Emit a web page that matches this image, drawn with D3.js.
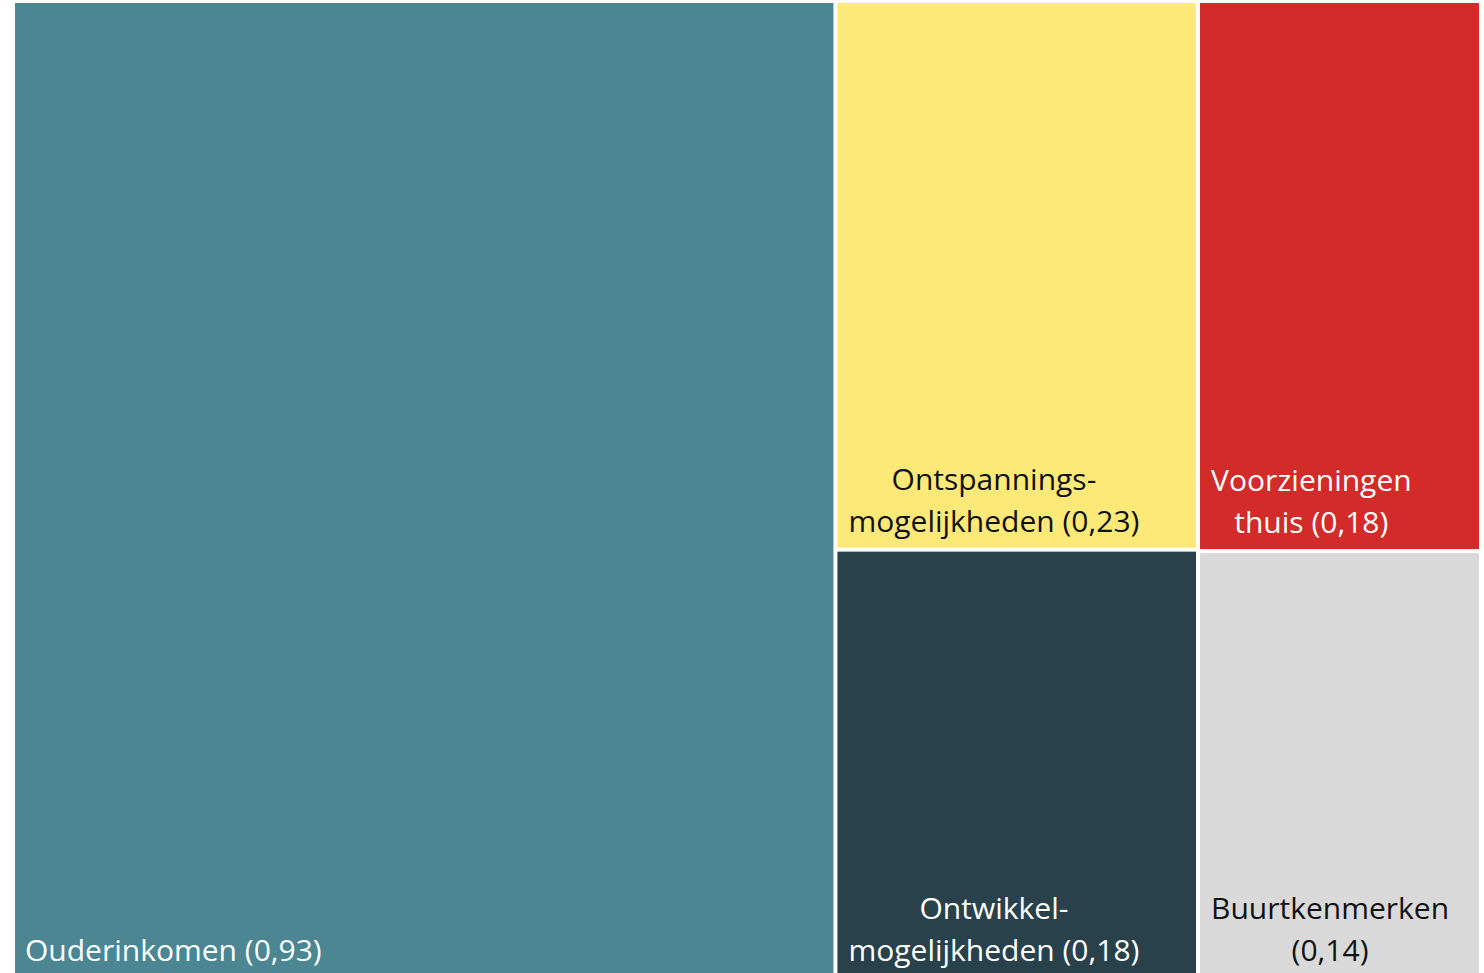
<!DOCTYPE html>
<html>
<head>
<meta charset="utf-8">
<script src="https://cdn.jsdelivr.net/npm/d3@7"></script>
<style>
  body { margin: 0; background: #fff; overflow: hidden; }
  text { font-family: "Open Sans", "Noto Sans", sans-serif; }
</style>
</head>
<body>
<div id="chart"></div>
<script>
var width = 1484, height = 973;

// data
var categories = ["Ouderinkomen", "Ontspanningsmogelijkheden", "Ontwikkelmogelijkheden", "Voorzieningen thuis", "Buurtkenmerken"];
var values = [0.93, 0.23, 0.18, 0.18, 0.14];
// which column of the right-hand block each item sits in (0 = own block)
var columns = [0, 1, 1, 2, 2];
var labelLines = [
    ["Ouderinkomen (0,93)"],
    ["Ontspannings-", "mogelijkheden (0,23)"],
    ["Ontwikkel-", "mogelijkheden (0,18)"],
    ["Voorzieningen", "thuis (0,18)"],
    ["Buurtkenmerken", "(0,14)"]
];
var colors = ["#4b8692", "#fce978", "#29414b", "#d22b29", "#d9d9d9"];
var textColors = ["#ffffff", "#111111", "#ffffff", "#ffffff", "#111111"];

var font_size = 30;
var line_height = 42;

// build the nested tree: big block + right block with two columns
var leaves = categories.map(function (c, i) {
    return { name: c, value: values[i], idx: i };
});
var tree = {
    name: "root",
    children: [
        leaves[0],
        {
            name: "rest",
            children: [1, 2].map(function (col) {
                return {
                    name: "col" + col,
                    children: leaves.filter(function (d) { return columns[d.idx] == col; })
                };
            })
        }
    ]
};

var root = d3.hierarchy(tree)
    .sum(function (d) { return d.children ? 0 : d.value; });
// keep input order, don't sort

d3.treemap()
    .tile(function (node, x0, y0, x1, y1) {
        if (node.depth == 2) d3.treemapSlice(node, x0, y0, x1, y1);
        else d3.treemapDice(node, x0, y0, x1, y1);
    })
    .size([1464, 974])
    .paddingInner(4)(root);

var svg = d3.select("#chart")
    .append("svg")
    .attr("width", width)
    .attr("height", height)
    .append("g")
    .attr("transform", "translate(15,3)");

var cell = svg.selectAll(".cell")
    .data(root.leaves())
    .enter()
    .append("g")
    .attr("class", "cell")
    .attr("transform", function (d) { return "translate(" + d.x0 + "," + d.y0 + ")"; });

cell.append("rect")
    .attr("width", function (d) { return d.x1 - d.x0; })
    .attr("height", function (d) { return d.y1 - d.y0; })
    .attr("fill", function (d) { return colors[d.data.idx]; });

// labels: a block at the bottom-left, lines centred on the widest one
cell.each(function (d) {
    var g = d3.select(this);
    var lines = labelLines[d.data.idx];
    var h = d.y1 - d.y0;
    var texts = lines.map(function (l, k) {
        return g.append("text")
            .attr("y", h - 16 - (lines.length - 1 - k) * line_height)
            .attr("font-size", font_size)
            .attr("fill", textColors[d.data.idx])
            .text(l);
    });
    var maxW = d3.max(texts, function (t) { return t.node().getComputedTextLength(); });
    texts.forEach(function (t) {
        if (lines.length == 1) {
            t.attr("x", 10);
        } else {
            t.attr("x", 11 + maxW / 2).attr("text-anchor", "middle");
        }
    });
});
</script>
</body>
</html>
